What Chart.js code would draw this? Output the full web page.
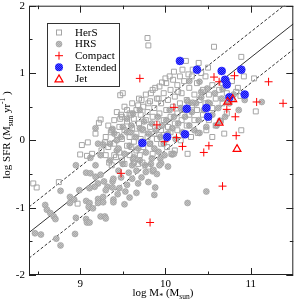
<!DOCTYPE html>
<html>
<head>
<meta charset="utf-8">
<script src="https://cdn.jsdelivr.net/npm/chart.js@4/dist/chart.umd.min.js"></script>
<style>
    html, body { margin: 0; padding: 0; background: #fff; }
</style>
</head>
<body>
<canvas id="SFRCHART" width="299" height="304"></canvas>
<script>
// log M* (x) , log SFR (y)
const hers = [
    [8.45,-0.64],[8.49,-0.70],[8.75,-0.62],[8.97,-0.94],[9.00,-0.21],[9.08,-0.23],[9.02,-0.07],[9.09,-0.03],
    [9.18,0.10],[9.22,0.26],[9.24,0.31],[9.29,-0.03],[9.47,0.67],[9.50,0.70],[9.48,0.38],[9.47,0.32],
    [9.79,1.52],[9.80,1.41],[10.24,1.18],[10.39,1.15],[10.57,1.39],[10.89,1.24],[11.04,0.92],[11.06,0.43],
    [10.89,0.15],[10.69,0.10],[10.38,0.11],[10.83,0.72],[10.88,0.66],[10.65,0.29],[9.37,0.15],[9.30,-0.22],
    [9.14,-0.20],[9.37,-0.37],[9.34,-0.33],[9.63,-0.33],[9.68,-0.35],[9.73,-0.33],[9.80,-0.39],[10.07,-0.20],
    [10.26,-0.20],[10.11,-0.15],
    [9.30,0.05],[9.33,-0.10],[9.33,0.22],[9.36,0.12],[9.40,-0.05],[9.40,0.30],[9.40,-0.22],[9.43,0.08],
    [9.43,0.42],[9.46,-0.18],[9.46,0.20],[9.49,0.02],[9.49,0.35],[9.49,-0.30],[9.52,0.15],[9.52,0.50],
    [9.55,-0.08],[9.55,0.28],[9.58,0.05],[9.58,0.40],[9.58,-0.22],[9.61,0.18],[9.61,0.55],[9.63,-0.02],
    [9.63,0.32],[9.66,0.10],[9.66,0.45],[9.66,-0.15],[9.69,0.25],[9.69,0.62],[9.71,0.02],[9.71,0.38],
    [9.74,0.15],[9.74,0.50],[9.74,-0.10],[9.77,0.30],[9.77,0.68],[9.79,0.05],[9.79,0.42],[9.82,0.20],
    [9.82,0.58],[9.82,-0.05],[9.85,0.35],[9.85,0.75],[9.87,0.10],[9.87,0.48],[9.90,0.25],[9.90,0.62],
    [9.90,0.02],[9.93,0.40],[9.93,0.80],[9.95,0.15],[9.95,0.55],[9.98,0.30],[9.98,0.70],[9.98,0.08],
    [10.01,0.45],[10.01,0.85],[10.03,0.20],[10.03,0.60],[10.06,0.35],[10.06,0.75],[10.06,0.12],[10.09,0.50],
    [10.09,0.90],[10.11,0.25],[10.11,0.65],[10.14,0.40],[10.14,0.82],[10.14,0.15],[10.17,0.55],[10.17,0.95],
    [10.19,0.30],[10.19,0.70],[10.22,0.45],[10.22,0.88],[10.25,0.60],[10.25,0.22],[10.28,0.38],[10.28,0.78],
    [10.31,0.52],[10.31,0.95],[10.34,0.68],[10.34,0.30],[10.37,0.45],[10.37,0.85],[10.40,0.60],[10.44,0.75],
    [10.44,0.38],[10.47,0.55],[10.47,0.95],[10.51,0.68],[10.51,0.30],[10.55,0.82],[10.55,0.48],[10.59,0.62],
    [10.59,0.22],[10.63,0.75],[10.67,0.55],[10.67,0.85],[10.72,0.70],[10.72,0.40],[10.78,0.88],[10.78,0.62],
    [10.85,0.78],[10.92,0.95],
    [9.55,0.45],[9.60,0.38],[9.68,0.52],[9.72,0.60],[9.80,0.55],[9.83,0.70],[9.88,0.78],[9.92,0.62],
    [9.96,0.86],[10.00,0.92],[10.05,0.95],[10.10,1.02],[10.15,0.72],[10.20,1.05],[10.27,0.98],[10.32,1.05],
    [10.42,1.00],[10.50,1.08],
    [9.25,-0.15],[9.42,-0.25],[9.52,-0.35],[9.60,-0.10],[9.70,-0.22],[9.85,-0.20],[9.95,-0.05],[10.02,-0.10],
    [10.18,0.00],[10.30,0.05],[10.48,0.15],[10.55,0.05]
];

const hrs = [
    [8.47,-1.38],[8.54,-1.40],[8.72,-1.46],[8.77,-1.56],[8.94,-1.39],[8.59,-0.96],[8.61,-1.03],[8.65,-1.08],
    [8.69,-1.13],[8.71,-1.17],[8.77,-0.75],[8.95,-0.37],[8.88,-0.84],[8.93,-0.88],[8.88,-0.93],[8.95,-1.15],
    [9.07,-1.17],[9.08,-1.22],[9.11,-1.22],[9.24,-1.13],[9.29,-1.13],[9.30,-1.16],[9.07,-0.48],[9.12,-0.49],
    [9.18,-0.54],[9.24,-0.51],[9.21,-0.64],[9.17,-0.69],[9.11,-0.71],[9.28,-0.61],[9.32,-0.69],[9.38,-0.61],
    [9.38,-0.70],[9.30,-0.74],[8.99,-0.74],[9.07,-0.90],[9.11,-0.93],[9.10,-0.99],[9.15,-1.01],[9.21,-0.87],
    [9.21,-0.93],[9.27,-0.84],[9.27,-0.92],[9.39,-0.88],[9.39,-0.92],[9.18,0.18],[9.21,-0.05],[9.27,-0.06],
    [9.43,0.00],[9.85,-0.46],[9.88,-0.70],[9.87,-0.81],[10.26,-0.93],[10.48,-0.76],[9.94,-0.27],[9.95,-0.34],
    [9.93,-0.37],[10.03,-0.39],[9.99,-0.22],[10.08,-0.21],[10.10,-0.20],[9.77,-0.47],[9.68,-0.64],[9.61,-0.57],
    [9.84,-0.27],[9.92,-0.17],[9.86,-0.44],[9.76,-0.37],[9.39,-0.57],[9.46,-0.71],[9.55,-0.66],[9.53,-0.76],
    [9.61,-0.37],[9.18,-0.37],[9.12,-0.26],[9.24,-0.22],[9.35,-0.30],[9.43,-0.15],
    [9.35,-0.05],[9.40,0.10],[9.45,-0.12],[9.48,0.05],[9.52,-0.20],[9.55,0.12],[9.58,-0.08],[9.60,0.22],
    [9.63,-0.25],[9.65,0.05],[9.68,-0.12],[9.70,0.18],[9.72,-0.02],[9.75,0.28],[9.77,-0.18],[9.80,0.10],
    [9.82,-0.05],[9.84,0.25],[9.87,-0.12],[9.89,0.15],[9.91,0.35],[9.94,0.05],[9.96,0.22],[9.98,-0.05],
    [10.01,0.30],[10.03,0.10],[10.05,0.45],[10.08,0.18],[10.10,0.35],[10.12,0.02],[10.15,0.25],[10.18,0.48],
    [10.20,0.12],[10.23,0.35],[10.26,0.58],[10.28,0.22],[10.31,0.42],[10.34,0.15],[10.36,0.55],[10.39,0.30],
    [10.42,0.72],[10.45,0.45],[10.48,0.20],[10.52,0.55],[10.55,0.38],[10.58,0.70],[10.62,0.48],[10.66,0.62],
    [10.70,0.35],[10.75,0.55],[10.80,0.68],[10.86,0.45],
    [10.40,0.87],[10.49,0.77],[10.67,0.76],[10.93,0.60],[11.13,0.57],[10.50,0.56],[10.32,0.56],[10.42,0.64],
    [10.28,0.88],[10.64,0.29],[10.60,0.22],[10.40,0.11],[9.38,0.17],[9.50,0.20],[9.59,0.12],[9.73,0.17],
    [9.62,0.40],[9.70,0.45],[9.55,0.32],
    [9.45,-0.45],[9.50,-0.35],[9.57,-0.48],[9.62,-0.28],[9.66,-0.45],[9.70,-0.30],[9.72,-0.55],[9.80,-0.62],
    [9.83,-0.35],[9.90,-0.50],[9.58,-0.85],[9.66,-0.78],[9.48,-0.55],[9.44,-0.80],[9.52,-0.95]
];

const compact = [
    [9.70,0.92],[10.57,0.94],[10.81,0.96],[10.63,0.87],[11.21,0.87],[10.10,0.49],[11.07,0.57],[11.38,0.55],
    [10.72,0.46],[10.82,0.35],[9.90,0.23],[10.83,0.07],[10.13,0.04],[9.99,-0.02],[10.20,-0.09],[10.51,-0.08],
    [9.48,-0.49],[10.45,-0.18],[10.67,-0.68],[9.82,-1.22]
];

const extended = [
    [10.17,1.18],[10.37,1.05],[10.66,1.03],[10.89,1.05],[10.70,0.90],[10.72,0.83],[10.93,0.68],[10.75,0.64],
    [10.25,0.47],[10.48,0.48],[10.50,0.35],[10.02,0.05],[10.23,0.09],[9.73,-0.04]
];

const jet = [[10.73,0.57],[10.79,0.61],[10.63,0.26],[10.84,-0.13]];

// fit line and +-scatter (end points)
const fitX = [8.4, 11.5];
const fitY = [-1.37, 1.73];
const upperY = [-0.99, 2.11];
const lowerY = [-1.75, 1.35];

const xMajor = [9, 10, 11];
const xMinor = [8.5, 9.5, 10.5];
const yMajor = [-2, -1, 0, 1, 2];
const yMinor = [-1.5, -0.5, 0.5, 1.5];

const legendItems = [
    { label: 'HerS', kind: 'square' },
    { label: 'HRS', kind: 'grey' },
    { label: 'Compact', kind: 'cross' },
    { label: 'Extended', kind: 'blue' },
    { label: 'Jet', kind: 'tri' }
];

const SERIF = '"Liberation Serif", "Times New Roman", serif';

function toXY(arr) {
    return arr.map(p => ({ x: p[0], y: p[1] }));
}

function lineXY(ys) {
    return fitX.map((x, i) => ({ x: x, y: ys[i] }));
}

let ctx = document.getElementById('SFRCHART');
let g = ctx.getContext('2d');

function hatch(c1, c2) {
    let p = document.createElement('canvas');
    p.width = 2; p.height = 2;
    let pc = p.getContext('2d');
    pc.fillStyle = c1; pc.fillRect(0, 0, 2, 2);
    pc.fillStyle = c2; pc.fillRect(0, 0, 1, 1); pc.fillRect(1, 1, 1, 1);
    return g.createPattern(p, 'repeat');
}

const greyFill = hatch('rgb(168,168,168)', 'rgb(196,196,196)');
const blueFill = hatch('rgb(10,10,245)', 'rgb(80,80,255)');

function drawMark(c, kind, x, y) {
    c.save();
    c.lineWidth = 1;
    if (kind === 'square') {
        c.strokeStyle = 'rgb(165,165,165)';
        c.strokeRect(x - 2.5, y - 2.5, 5, 5);
    } else if (kind === 'grey') {
        c.beginPath(); c.arc(x, y, 3, 0, Math.PI * 2);
        c.fillStyle = greyFill; c.fill();
        c.strokeStyle = 'rgb(160,160,160)'; c.lineWidth = 0.6; c.stroke();
    } else if (kind === 'cross') {
        c.strokeStyle = '#ff0000';
        c.beginPath();
        c.moveTo(x - 4, y); c.lineTo(x + 4, y);
        c.moveTo(x, y - 4); c.lineTo(x, y + 4);
        c.stroke();
    } else if (kind === 'blue') {
        c.beginPath(); c.arc(x, y, 4, 0, Math.PI * 2);
        c.fillStyle = blueFill; c.fill();
    } else if (kind === 'tri') {
        c.strokeStyle = '#ff0000'; c.lineWidth = 1.2;
        c.beginPath();
        c.moveTo(x, y - 4); c.lineTo(x + 4, y + 3); c.lineTo(x - 4, y + 3); c.closePath();
        c.stroke();
    }
    c.restore();
}

// text with sub / superscripts: [text, size, shift]
function richText(c, parts, cx, base) {
    let w = 0;
    parts.forEach(p => { c.font = p[1] + 'px ' + SERIF; w += c.measureText(p[0]).width; });
    let x = cx - w / 2;
    parts.forEach(p => {
        c.font = p[1] + 'px ' + SERIF;
        c.fillText(p[0], x, base + p[2]);
        x += c.measureText(p[0]).width;
    });
}

const framePlugin = {
    id: 'frame',
    afterDraw(chart) {
        const c = chart.ctx;
        const a = chart.chartArea;
        const sx = chart.scales.x, sy = chart.scales.y;
        c.save();
        c.strokeStyle = '#222';
        c.lineWidth = 1;
        c.strokeRect(a.left + 0.5, a.top + 0.5, a.right - a.left - 1, a.bottom - a.top - 1);

        c.beginPath();
        const tickX = (v, len) => {
            let px = Math.round(sx.getPixelForValue(v)) + 0.5;
            c.moveTo(px, a.bottom); c.lineTo(px, a.bottom - len);
            c.moveTo(px, a.top); c.lineTo(px, a.top + len);
        };
        const tickY = (v, len) => {
            let py = Math.round(sy.getPixelForValue(v)) + 0.5;
            c.moveTo(a.left, py); c.lineTo(a.left + len, py);
            c.moveTo(a.right, py); c.lineTo(a.right - len, py);
        };
        xMajor.forEach(v => tickX(v, 7));
        xMinor.forEach(v => tickX(v, 3.5));
        yMajor.forEach(v => tickY(v, 7));
        yMinor.forEach(v => tickY(v, 3.5));
        c.stroke();

        // legend box
        c.fillStyle = '#fff';
        c.fillRect(47.5, 23.5, 72, 63);
        c.strokeStyle = '#333';
        c.strokeRect(47.5, 23.5, 72, 63);
        c.fillStyle = '#000';
        c.font = '11px ' + SERIF;
        c.textBaseline = 'middle';
        legendItems.forEach((it, i) => {
            let yy = 32.5 + i * 11.6;
            drawMark(c, it.kind, 59, yy);
            c.fillText(it.label, 75, yy + 0.5);
        });

        // axis titles
        c.textBaseline = 'alphabetic';
        c.fillStyle = '#000';
        richText(c, [['log M', 11, 0], ['*', 8, 3], [' (M', 11, 0], ['sun', 7.5, 3], [')', 11, 0]], 163, 296);
        c.translate(10, 135);
        c.rotate(-Math.PI / 2);
        richText(c, [['log SFR (M', 11, 0], ['sun', 7.5, 3], [' yr', 11, 0], ['-1', 7.5, -5], [' )', 11, 0]], 0, 0);
        c.restore();
    }
};

function point(kind) {
    return {
        pointRadius: 0,
        pointHoverRadius: 0
    };
}

let sfr_chart = new Chart(ctx, {
    type: 'scatter',
    data: {
        datasets: [
            {
                label: 'fit',
                data: lineXY(fitY),
                showLine: true,
                borderColor: '#333',
                borderWidth: 1,
                pointRadius: 0,
                order: 10
            },
            {
                label: 'upper',
                data: lineXY(upperY),
                showLine: true,
                borderColor: '#333',
                borderWidth: 1,
                borderDash: [3, 2],
                pointRadius: 0,
                order: 10
            },
            {
                label: 'lower',
                data: lineXY(lowerY),
                showLine: true,
                borderColor: '#333',
                borderWidth: 1,
                borderDash: [3, 2],
                pointRadius: 0,
                order: 10
            },
            {
                label: 'HRS',
                data: toXY(hrs),
                pointStyle: 'circle',
                pointRadius: 3,
                backgroundColor: greyFill,
                borderColor: 'rgb(160,160,160)',
                borderWidth: 0.6,
                order: 5
            },
            {
                label: 'HerS',
                data: toXY(hers),
                pointStyle: 'rect',
                pointRadius: 3.5,
                backgroundColor: 'rgba(0,0,0,0)',
                borderColor: 'rgb(165,165,165)',
                borderWidth: 1,
                order: 4
            },
            {
                label: 'Compact',
                data: toXY(compact),
                pointStyle: 'cross',
                pointRadius: 4,
                borderColor: '#ff0000',
                borderWidth: 1,
                order: 3
            },
            {
                label: 'Extended',
                data: toXY(extended),
                pointStyle: 'circle',
                pointRadius: 4,
                backgroundColor: blueFill,
                borderColor: 'rgb(30,30,255)',
                borderWidth: 0.5,
                order: 2
            },
            {
                label: 'Jet',
                data: toXY(jet),
                pointStyle: 'triangle',
                pointRadius: 4.5,
                backgroundColor: 'rgba(255,255,255,0)',
                borderColor: '#ff0000',
                borderWidth: 1.2,
                order: 1
            }
        ]
    },
    options: {
        responsive: false,
        animation: false,
        devicePixelRatio: 1,
        layout: {
            padding: { top: 4, right: 2, left: 0, bottom: 0 }
        },
        scales: {
            x: {
                type: 'linear',
                min: 8.4,
                max: 11.5,
                grid: { display: false, drawTicks: false },
                border: { display: false },
                ticks: {
                    stepSize: 0.5,
                    autoSkip: false,
                    maxRotation: 0,
                    padding: 3,
                    color: '#000',
                    font: { family: SERIF, size: 11 },
                    callback: v => Math.abs(v - Math.round(v)) < 1e-6 ? String(Math.round(v)) : ''
                },
                afterFit: s => { s.height = 29; s.paddingLeft = 0; s.paddingRight = 0; }
            },
            y: {
                type: 'linear',
                min: -2,
                max: 2,
                grid: { display: false, drawTicks: false },
                border: { display: false },
                ticks: {
                    stepSize: 0.5,
                    autoSkip: false,
                    padding: 4,
                    color: '#000',
                    font: { family: SERIF, size: 11 },
                    callback: v => Math.abs(v - Math.round(v)) < 1e-6 ? String(Math.round(v)) : ''
                },
                afterFit: s => { s.width = 29; s.paddingTop = 0; s.paddingBottom = 0; }
            }
        },
        plugins: {
            legend: { display: false },
            tooltip: { enabled: false }
        }
    },
    plugins: [framePlugin]
});
</script>
</body>
</html>
